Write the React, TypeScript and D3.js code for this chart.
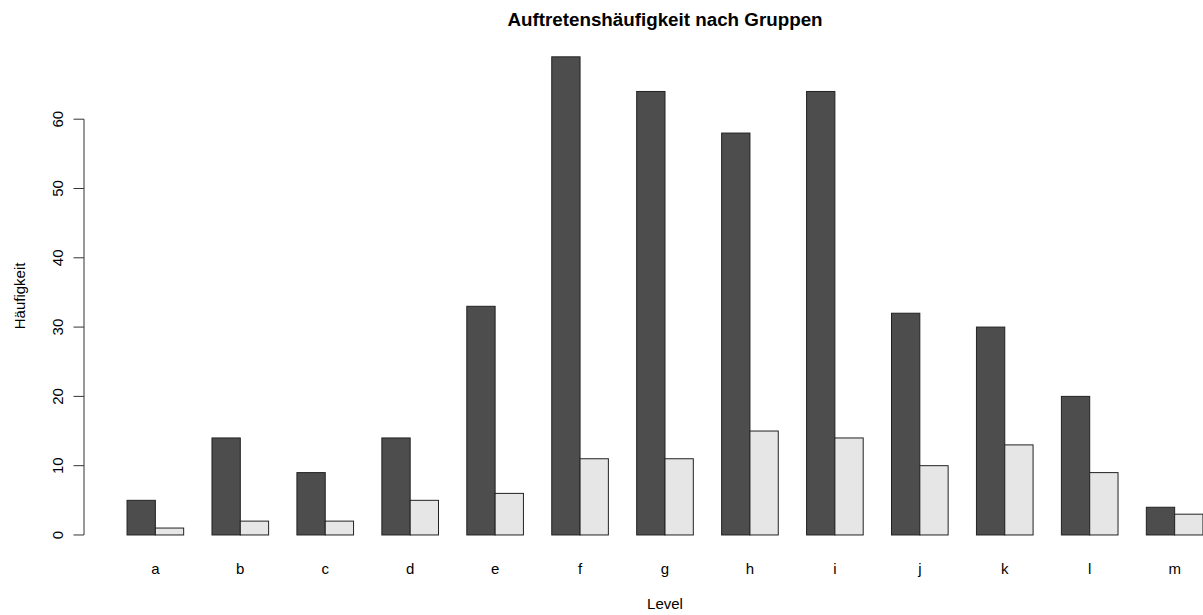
import React from "react";
import * as d3 from "d3";

const categories = ["a", "b", "c", "d", "e", "f", "g", "h", "i", "j", "k", "l", "m"];
const seriesDark = [5, 14, 9, 14, 33, 69, 64, 58, 64, 32, 30, 20, 4];
const seriesLight = [1, 2, 2, 5, 6, 11, 11, 15, 14, 10, 13, 9, 3];
const yTicks = [0, 10, 20, 30, 40, 50, 60];

const W = 1203;
const H = 615;

export default function App() {
  const n = categories.length;
  const xMaxU = 3 * n; // right edge in bar units (R barplot beside, space=c(0,1))
  const xRange = xMaxU - 1;
  const xDom: [number, number] = [1 - 0.04 * xRange, xMaxU + 0.04 * xRange];
  const x = d3.scaleLinear().domain(xDom).range([84, 1246]);
  const yMax = d3.max(seriesDark.concat(seriesLight)) as number;
  const yDom: [number, number] = [-0.04 * yMax, yMax * 1.04];
  const y = d3.scaleLinear().domain(yDom).range([554.1, 37.7]);
  const font = "'Liberation Sans', Arial, Helvetica, sans-serif";
  const cx = (x(xDom[0]) + x(xDom[1])) / 2;
  const cy = (y(yDom[0]) + y(yDom[1])) / 2;

  return (
    <svg width={W} height={H} style={{ position: "absolute", left: 0, top: 0, background: "#fff" }} fontFamily={font}>
      <text x={cx} y={26} textAnchor="middle" fontWeight="bold" fontSize={18.8} fill="#000">
        Auftretenshäufigkeit nach Gruppen
      </text>
      {categories.map((c, i) => {
        const l = 1 + 3 * i;
        return (
          <g key={c}>
            <rect x={x(l)} y={y(seriesDark[i])} width={x(l + 1) - x(l)} height={y(0) - y(seriesDark[i])}
              fill="#4D4D4D" stroke="#222" strokeWidth={1} />
            <rect x={x(l + 1)} y={y(seriesLight[i])} width={x(l + 2) - x(l + 1)} height={y(0) - y(seriesLight[i])}
              fill="#E6E6E6" stroke="#222" strokeWidth={1} />
            <text x={x(l + 1)} y={574} textAnchor="middle" fontSize={15} fill="#000">{c}</text>
          </g>
        );
      })}
      <line x1={84} x2={84} y1={y(0)} y2={y(60)} stroke="#333" strokeWidth={1} />
      {yTicks.map((t) => (
        <g key={t}>
          <line x1={73.5} x2={84} y1={y(t)} y2={y(t)} stroke="#333" strokeWidth={1} />
          <text transform={`translate(63,${y(t)}) rotate(-90)`} textAnchor="middle" fontSize={15} fill="#000">{t}</text>
        </g>
      ))}
      <text transform={`translate(24.5,${cy}) rotate(-90)`} textAnchor="middle" fontSize={15} fill="#000">Häufigkeit</text>
      <text x={cx} y={609} textAnchor="middle" fontSize={15} fill="#000">Level</text>
    </svg>
  );
}
